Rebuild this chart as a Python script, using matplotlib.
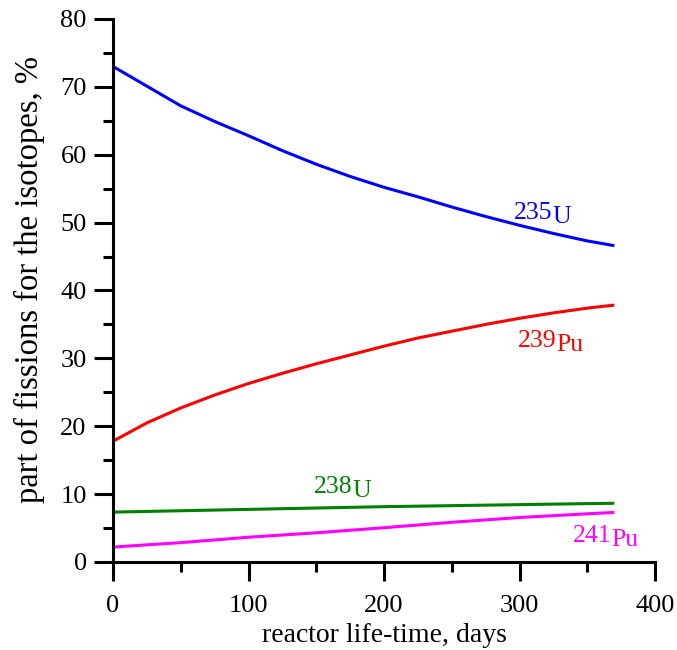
import matplotlib
matplotlib.use("Agg")
import matplotlib.pyplot as plt
from matplotlib.ticker import MultipleLocator

plt.rcParams['font.family'] = ['Liberation Serif', 'DejaVu Serif']

days_fine = [0, 25, 50, 75, 100, 125, 150, 175, 200, 225, 250, 275, 300, 325, 350, 370]
u235 = [73.0, 70.1, 67.2, 64.9, 62.8, 60.6, 58.6, 56.8, 55.2, 53.8, 52.3, 50.9, 49.6, 48.4, 47.3, 46.6]
pu239 = [17.8, 20.5, 22.7, 24.6, 26.3, 27.8, 29.2, 30.5, 31.8, 33.0, 34.0, 35.0, 35.9, 36.7, 37.4, 37.85]
days_coarse = [0, 50, 100, 150, 200, 250, 300, 350, 370]
u238 = [7.35, 7.55, 7.75, 7.95, 8.15, 8.3, 8.45, 8.6, 8.65]
pu241 = [2.2, 2.85, 3.65, 4.3, 5.05, 5.85, 6.55, 7.1, 7.3]

series = [
    (days_fine, u235, '#0000ff', '235', 'U', 324, 50.5),
    (days_fine, pu239, '#ff0000', '239', 'Pu', 327, 31.7),
    (days_coarse, u238, '#008000', '238', 'U', 176.5, 10.2),
    (days_coarse, pu241, '#ff00ff', '241', 'Pu', 368, 2.95),
]

fig = plt.figure(figsize=(6.77, 6.5), dpi=100)
ax = fig.add_axes([0.167, 0.1354, 0.8005, 0.8354])

fs = 19
for xs, vals, col, num, sym, lx, ly in series:
    ax.plot(xs, vals, color=col, lw=2.2, solid_capstyle='butt')
    ax.text(lx, ly, num, color=col, ha='right', va='baseline', fontsize=18.5)
    ax.annotate(sym, xy=(lx, ly), xytext=(0, -3), textcoords='offset points',
                color=col, ha='left', va='baseline', fontsize=18.5)

ax.set_xlim(0, 400)
ax.set_ylim(0, 80)
ax.xaxis.set_major_locator(MultipleLocator(100))
ax.xaxis.set_minor_locator(MultipleLocator(50))
ax.yaxis.set_major_locator(MultipleLocator(10))
ax.yaxis.set_minor_locator(MultipleLocator(5))

for s in ['top', 'right']:
    ax.spines[s].set_visible(False)
for s in ['left', 'bottom']:
    ax.spines[s].set_linewidth(2.2)

ax.tick_params(which='major', direction='out', length=14, width=2.2, labelsize=fs)
ax.tick_params(which='minor', direction='out', length=7, width=2.2)
ax.tick_params(axis='y', pad=5)
ax.tick_params(axis='x', pad=10)

ax.set_xlabel('reactor life-time, days', fontsize=20, labelpad=4)
ax.set_ylabel('part of fissions for the isotopes, %', fontsize=23.5)
ax.yaxis.set_label_coords(-0.1255, 0.52)

fig.savefig('out.png', dpi=100, facecolor='white')
